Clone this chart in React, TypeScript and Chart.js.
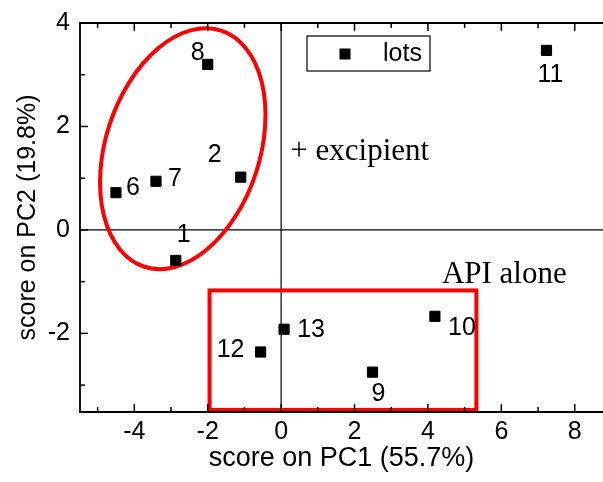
import { useEffect, useRef } from 'react';
import { Chart, registerables } from 'chart.js';

Chart.register(...registerables);

// ---- data ----
const LOT_LABELS = ['1', '2', '6', '7', '8', '9', '10', '11', '12', '13'];
const PC1_SCORES = [-2.87, -1.1, -4.5, -3.41, -2.0, 2.49, 4.19, 7.23, -0.56, 0.08];
const PC2_SCORES = [-0.59, 1.02, 0.72, 0.94, 3.2, -2.75, -1.67, 3.47, -2.36, -1.92];
// label offsets (px) relative to their marker
const LABEL_DX = [8, -26, 17, 19, -10, 6, 27, 4, -30, 27];
const LABEL_DY = [-25, -22, -5, -2, -11, 22, 12, 25, -2, 1];

const X_MAJOR = [-4, -2, 0, 2, 4, 6, 8];
const X_MINOR = [-5, -3, -1, 1, 3, 5, 7];
const Y_MAJOR = [-2, 0, 2, 4];
const Y_MINOR = [-3, -1, 1, 3];

const X_RANGE = [-5.48, 8.77];
const Y_RANGE = [-3.52, 4];

const X_TITLE = 'score on PC1 (55.7%)';
const Y_TITLE = 'score on PC2 (19.8%)';
const LEGEND_LABEL = 'lots';

// annotations in data coordinates
const API_BOX = { x0: -1.95, x1: 5.32, y0: -1.17, y1: -3.48 };
const EXCIPIENT_ELLIPSE = { cx: -2.68, cy: 1.57, rx: 2.1, ry: 2.4, angleDeg: 18 };
const NOTES = [
  { text: '+ excipient', x: 0.25, y: 1.35 },
  { text: 'API alone', x: 4.38, y: -1.03 },
];

const SANS = "'Liberation Sans', Arial, sans-serif";
const SERIF = "'Liberation Serif', 'Times New Roman', serif";

const decorPlugin = {
  id: 'pcaDecor',
  beforeDatasetsDraw(chart: any) {
    const { ctx, chartArea: ca, scales } = chart;
    const xs = scales.x;
    const ys = scales.y;
    ctx.save();
    const line = (x1: number, y1: number, x2: number, y2: number) => {
      ctx.beginPath();
      ctx.moveTo(x1, y1);
      ctx.lineTo(x2, y2);
      ctx.stroke();
    };
    // zero lines
    ctx.strokeStyle = '#000';
    ctx.lineWidth = 1.2;
    const zx = xs.getPixelForValue(0);
    const zy = ys.getPixelForValue(0);
    line(zx, ca.top, zx, ca.bottom);
    line(ca.left, zy, ca.right, zy);

    // API box
    ctx.strokeStyle = '#ff0000';
    ctx.lineWidth = 4;
    const bx0 = xs.getPixelForValue(API_BOX.x0);
    const bx1 = xs.getPixelForValue(API_BOX.x1);
    const by0 = ys.getPixelForValue(API_BOX.y0);
    const by1 = ys.getPixelForValue(API_BOX.y1);
    ctx.strokeRect(bx0, by0, bx1 - bx0, by1 - by0);

    // ellipse
    const ecx = xs.getPixelForValue(EXCIPIENT_ELLIPSE.cx);
    const ecy = ys.getPixelForValue(EXCIPIENT_ELLIPSE.cy);
    const erx = Math.abs(xs.getPixelForValue(EXCIPIENT_ELLIPSE.rx) - xs.getPixelForValue(0));
    const ery = Math.abs(ys.getPixelForValue(EXCIPIENT_ELLIPSE.ry) - ys.getPixelForValue(0));
    ctx.beginPath();
    ctx.ellipse(ecx, ecy, erx, ery, (EXCIPIENT_ELLIPSE.angleDeg * Math.PI) / 180, 0, Math.PI * 2);
    ctx.stroke();

    // frame
    ctx.strokeStyle = '#000';
    ctx.lineWidth = 1.8;
    line(ca.left, ca.top, ca.left, ca.bottom + 0.9);
    line(ca.left - 0.9, ca.bottom, ca.right, ca.bottom);
    line(ca.left - 0.9, ca.top, ca.right, ca.top);

    // inward ticks
    ctx.lineWidth = 1.5;
    const drawX = (vals: number[], len: number) => {
      vals.forEach((v) => {
        const px = xs.getPixelForValue(v);
        line(px, ca.bottom, px, ca.bottom - len);
        line(px, ca.top, px, ca.top + len);
      });
    };
    const drawY = (vals: number[], len: number) => {
      vals.forEach((v) => {
        const py = ys.getPixelForValue(v);
        line(ca.left, py, ca.left + len, py);
      });
    };
    drawX(X_MAJOR, 8);
    drawX(X_MINOR, 5);
    drawY(Y_MAJOR, 8);
    drawY(Y_MINOR, 5);
    ctx.restore();
  },
  afterDatasetsDraw(chart: any) {
    const { ctx, scales } = chart;
    const xs = scales.x;
    const ys = scales.y;
    ctx.save();
    ctx.fillStyle = '#000';
    // point labels
    ctx.font = `25px ${SANS}`;
    ctx.textAlign = 'center';
    ctx.textBaseline = 'middle';
    LOT_LABELS.forEach((lab, i) => {
      const px = xs.getPixelForValue(PC1_SCORES[i]) + LABEL_DX[i];
      const py = ys.getPixelForValue(PC2_SCORES[i]) + LABEL_DY[i];
      ctx.fillText(lab, px, py);
    });
    // notes
    ctx.font = `31px ${SERIF}`;
    ctx.textAlign = 'left';
    ctx.textBaseline = 'alphabetic';
    NOTES.forEach((n) => {
      ctx.fillText(n.text, xs.getPixelForValue(n.x), ys.getPixelForValue(n.y));
    });
    // legend
    ctx.strokeStyle = '#000';
    ctx.lineWidth = 1.2;
    ctx.strokeRect(307, 36, 123, 35);
    ctx.fillRect(339.5, 48.5, 11, 11);
    ctx.font = `25px ${SANS}`;
    ctx.fillText(LEGEND_LABEL, 383, 61);
    ctx.restore();
  },
};

export default function App() {
  const ref = useRef<HTMLCanvasElement | null>(null);
  useEffect(() => {
    if (!ref.current) return;
    const chart = new Chart(ref.current, {
      type: 'scatter',
      data: {
        datasets: [
          {
            label: LEGEND_LABEL,
            data: PC1_SCORES.map((x, i) => ({ x, y: PC2_SCORES[i] })),
            pointStyle: 'rect',
            pointRadius: 7.2,
            pointBorderWidth: 1,
            backgroundColor: '#000',
            borderColor: '#000',
          },
        ],
      },
      options: {
        animation: false,
        responsive: false,
        layout: { autoPadding: false, padding: { top: 23, left: 0, right: 0, bottom: 0 } },
        plugins: { legend: { display: false }, tooltip: { enabled: false } },
        scales: {
          x: {
            type: 'linear',
            min: X_RANGE[0],
            max: X_RANGE[1],
            grid: { display: false, drawTicks: false },
            border: { display: false },
            ticks: {
              includeBounds: false,
              color: '#000',
              padding: 5,
              font: { family: SANS, size: 25 },
              callback: (v: any) => String(v),
            },
            afterBuildTicks: (s: any) => {
              s.ticks = X_MAJOR.map((v) => ({ value: v }));
            },
            afterFit: (s: any) => {
              s.height = 70;
              s.paddingLeft = 0;
              s.paddingRight = 0;
              s.paddingTop = 0;
              s.paddingBottom = 0;
            },
            title: {
              display: true,
              text: X_TITLE,
              color: '#000',
              font: { family: SANS, size: 27 },
              padding: { top: 0, bottom: 7 },
            },
          },
          y: {
            type: 'linear',
            min: Y_RANGE[0],
            max: Y_RANGE[1],
            grid: { display: false, drawTicks: false },
            border: { display: false },
            ticks: {
              includeBounds: false,
              color: '#000',
              padding: 10,
              font: { family: SANS, size: 25 },
              callback: (v: any) => String(v),
            },
            afterBuildTicks: (s: any) => {
              s.ticks = Y_MAJOR.map((v) => ({ value: v }));
            },
            afterFit: (s: any) => {
              s.width = 80;
              s.paddingLeft = 0;
              s.paddingRight = 0;
              s.paddingTop = 0;
              s.paddingBottom = 0;
            },
            title: {
              display: true,
              text: Y_TITLE,
              color: '#000',
              font: { family: SANS, size: 25 },
              padding: { top: 13, bottom: 0 },
            },
          },
        },
      },
      plugins: [decorPlugin],
    });
    return () => chart.destroy();
  }, []);
  return (
    <div style={{ position: 'absolute', left: 0, top: 0, width: 603, height: 482, background: '#fff' }}>
      <canvas ref={ref} width={603} height={482} style={{ display: 'block' }} />
    </div>
  );
}
